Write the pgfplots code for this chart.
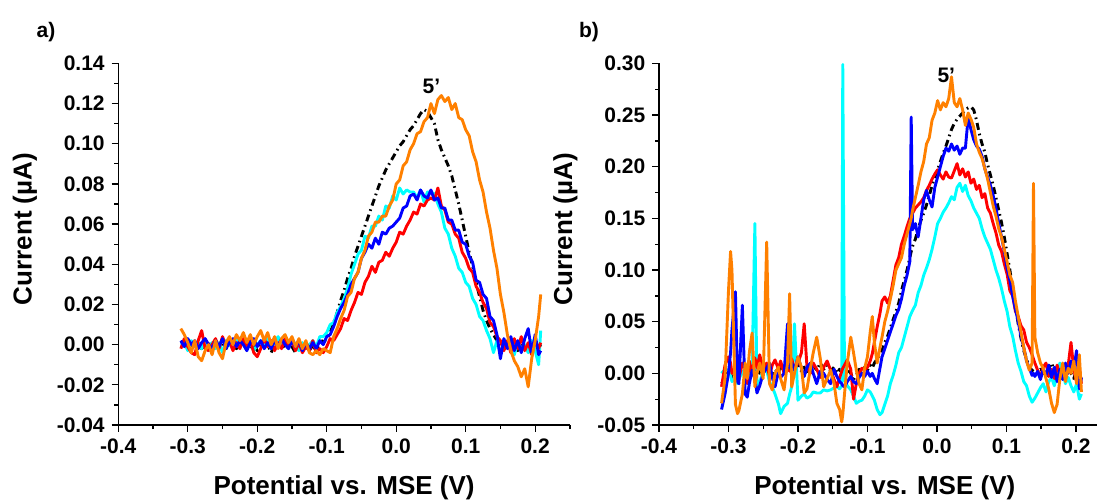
\documentclass[border=0pt]{standalone}
\usepackage{fontspec}
\setmainfont{Liberation Sans}
\usepackage{pgfplots}
\pgfplotsset{compat=1.18}
\usepackage{pgfplotstable}

\definecolor{oorange}{RGB}{255,128,0}
\definecolor{ocyan}{RGB}{0,255,255}

% panel a
\pgfplotstableread{
x k r b c o
-0.310 0.001 -0.002 0.002 0.000 0.008
-0.305 0.002 0.003 -0.001 0.001 0.005
-0.300 -0.002 -0.001 0.003 -0.003 0.001
-0.295 0.000 -0.004 0.000 0.002 -0.004
-0.290 -0.001 -0.005 0.002 -0.001 0.002
-0.285 0.001 0.002 -0.002 0.001 -0.006
-0.280 -0.002 0.007 0.001 -0.002 -0.008
-0.275 0.000 -0.002 0.003 0.002 -0.003
-0.270 0.001 -0.003 0.000 -0.003 0.000
-0.265 -0.002 0.000 -0.002 0.001 -0.005
-0.260 0.000 0.003 0.002 -0.002 0.002
-0.255 -0.001 -0.002 -0.001 0.001 -0.004
-0.250 0.001 0.004 0.003 -0.004 -0.007
-0.245 -0.002 -0.001 -0.002 0.002 0.001
-0.240 0.000 0.002 0.001 0.000 0.004
-0.235 0.001 -0.003 0.003 -0.002 0.000
-0.230 -0.002 0.001 -0.001 0.003 0.005
-0.225 0.000 -0.002 0.002 -0.001 0.002
-0.220 -0.001 0.003 0.000 0.002 0.006
-0.215 0.001 -0.001 -0.003 -0.002 0.001
-0.210 -0.002 0.002 0.001 0.001 0.005
-0.205 0.000 -0.004 0.003 -0.003 0.000
-0.200 -0.003 -0.006 -0.001 0.000 0.004
-0.195 0.001 -0.002 0.002 0.002 0.007
-0.190 -0.001 0.003 -0.002 -0.001 0.002
-0.185 0.000 -0.001 0.001 0.003 0.006
-0.180 -0.004 0.002 -0.002 -0.002 0.000
-0.175 0.000 -0.003 0.002 0.001 0.004
-0.170 -0.001 0.001 -0.001 0.004 -0.002
-0.165 0.001 -0.002 0.003 -0.001 0.003
-0.160 -0.002 0.003 0.000 0.002 0.005
-0.155 0.000 -0.001 -0.002 -0.002 0.001
-0.150 -0.001 0.002 0.002 0.003 0.004
-0.145 -0.004 -0.003 -0.001 0.000 -0.001
-0.140 0.000 0.001 0.002 -0.003 0.003
-0.135 -0.002 -0.004 -0.003 0.001 -0.002
-0.130 0.000 -0.001 0.001 -0.002 0.002
-0.125 -0.003 -0.003 -0.002 0.000 -0.004
-0.120 0.000 0.002 0.001 0.002 -0.005
-0.115 -0.004 -0.004 -0.002 -0.001 -0.003
-0.110 0.003 -0.002 0.002 0.004 -0.005
-0.105 0.001 -0.004 0.000 0.004 -0.002
-0.100 0.003 -0.001 0.004 0.006 -0.003
-0.095 0.006 0.003 0.005 0.010 -0.004
-0.090 0.011 0.002 0.009 0.011 0.004
-0.085 0.016 0.005 0.014 0.016 0.008
-0.080 0.022 0.008 0.018 0.019 0.013
-0.075 0.027 0.013 0.021 0.023 0.017
-0.070 0.033 0.012 0.025 0.028 0.024
-0.065 0.038 0.017 0.030 0.035 0.026
-0.060 0.044 0.021 0.033 0.040 0.033
-0.055 0.049 0.026 0.036 0.045 0.036
-0.050 0.054 0.025 0.043 0.047 0.043
-0.045 0.059 0.031 0.046 0.054 0.047
-0.040 0.064 0.034 0.050 0.053 0.054
-0.035 0.069 0.039 0.048 0.059 0.056
-0.030 0.074 0.036 0.053 0.059 0.061
-0.025 0.079 0.041 0.050 0.064 0.061
-0.020 0.083 0.042 0.056 0.062 0.064
-0.015 0.087 0.046 0.055 0.069 0.064
-0.010 0.090 0.044 0.058 0.068 0.069
-0.005 0.093 0.048 0.059 0.074 0.072
0.000 0.096 0.051 0.061 0.072 0.080
0.005 0.099 0.056 0.063 0.078 0.082
0.010 0.101 0.055 0.068 0.075 0.089
0.015 0.104 0.059 0.069 0.077 0.091
0.020 0.107 0.062 0.074 0.076 0.097
0.025 0.109 0.066 0.075 0.076 0.100
0.030 0.112 0.065 0.072 0.073 0.105
0.035 0.115 0.070 0.077 0.077 0.106
0.040 0.117 0.069 0.074 0.071 0.111
0.045 0.116 0.072 0.073 0.076 0.113
0.050 0.113 0.073 0.077 0.076 0.120
0.055 0.110 0.072 0.072 0.075 0.115
0.060 0.102 0.078 0.073 0.070 0.122
0.065 0.097 0.069 0.068 0.066 0.124
0.070 0.093 0.067 0.068 0.058 0.121
0.075 0.089 0.061 0.062 0.055 0.123
0.080 0.084 0.060 0.062 0.048 0.117
0.085 0.077 0.055 0.057 0.044 0.120
0.090 0.070 0.053 0.057 0.038 0.113
0.095 0.062 0.046 0.051 0.036 0.112
0.100 0.054 0.043 0.050 0.031 0.107
0.105 0.046 0.038 0.044 0.029 0.104
0.110 0.039 0.036 0.041 0.023 0.096
0.115 0.031 0.029 0.032 0.020 0.091
0.120 0.024 0.026 0.031 0.014 0.082
0.125 0.017 0.021 0.025 0.012 0.076
0.130 0.012 0.018 0.023 0.007 0.066
0.135 0.008 0.011 0.014 0.003 0.058
0.140 0.005 0.009 0.012 -0.004 0.047
0.145 0.002 0.004 0.005 0.002 0.038
0.150 0.001 0.002 -0.007 -0.005 0.025
0.155 -0.001 -0.003 0.003 -0.001 0.016
0.160 0.001 0.002 -0.002 0.002 0.005
0.165 -0.002 -0.004 0.004 -0.003 -0.003
0.170 0.000 0.003 -0.003 -0.005 -0.008
0.175 -0.003 -0.002 0.002 0.001 -0.011
0.180 0.001 0.004 -0.004 -0.002 -0.016
0.185 -0.001 -0.003 0.003 0.000 -0.012
0.190 -0.004 0.001 0.008 -0.004 -0.021
0.195 0.000 -0.005 -0.004 0.002 -0.007
0.200 -0.002 0.002 0.005 -0.003 0.002
0.205 0.001 -0.002 -0.005 -0.010 0.014
0.208 -0.001 0.001 -0.003 0.007 0.025
}\dataA

% panel b
\pgfplotstableread{
x k r b c o
-0.310 -0.010 -0.013 -0.035 0.000 -0.029
-0.305 -0.005 0.008 -0.020 0.004 -0.005
-0.300 0.003 0.016 0.000 0.003 0.080
-0.297 0.000 0.010 0.020 -0.002 0.118
-0.295 -0.004 0.000 0.042 -0.008 0.100
-0.290 0.004 0.005 0.079 -0.005 -0.030
-0.287 0.002 0.010 -0.008 -0.010 -0.039
-0.285 -0.002 -0.005 -0.010 -0.006 -0.036
-0.280 0.005 0.010 0.066 0.002 -0.020
-0.276 0.000 0.004 -0.020 -0.004 0.010
-0.273 -0.004 -0.010 -0.023 -0.008 -0.005
-0.270 0.003 0.012 -0.010 0.000 0.020
-0.266 0.006 0.000 0.003 0.004 0.039
-0.262 -0.002 0.015 -0.005 0.145 -0.013
-0.259 0.004 0.005 -0.019 -0.016 0.000
-0.255 0.000 0.018 -0.012 -0.008 0.010
-0.250 0.008 0.002 0.000 0.002 -0.005
-0.245 0.002 0.010 0.005 0.003 0.127
-0.241 0.006 -0.003 0.010 -0.008 -0.010
-0.237 -0.002 0.008 -0.004 -0.013 -0.016
-0.233 0.004 0.013 -0.013 -0.020 0.000
-0.228 0.000 0.004 0.002 -0.030 0.006
-0.225 0.008 0.012 -0.004 -0.039 -0.005
-0.220 0.002 0.000 0.000 -0.032 -0.016
-0.215 0.006 0.010 0.048 -0.029 0.010
-0.212 0.003 0.002 0.005 -0.020 0.077
-0.209 0.000 0.014 0.010 -0.013 -0.013
-0.205 0.005 0.004 0.003 0.048 0.000
-0.200 0.008 0.010 0.016 -0.026 0.016
-0.195 0.002 0.020 0.005 -0.022 0.006
-0.191 0.006 0.048 -0.003 -0.020 -0.019
-0.187 0.000 0.006 0.006 -0.024 -0.015
-0.182 0.005 0.000 0.010 -0.022 0.005
-0.178 0.008 0.010 0.000 -0.018 0.020
-0.173 0.003 0.004 -0.010 -0.019 0.035
-0.168 0.010 -0.004 0.002 -0.019 0.015
-0.163 0.004 0.006 0.000 -0.016 -0.013
-0.158 0.008 0.012 -0.006 -0.017 -0.005
-0.153 0.002 0.003 -0.010 -0.016 0.003
-0.148 0.006 -0.006 0.004 -0.014 -0.010
-0.144 0.000 -0.013 -0.003 -0.013 -0.029
-0.140 0.004 -0.004 -0.008 -0.015 -0.035
-0.137 0.001 0.002 -0.010 -0.012 -0.047
-0.1355 0.002 0.005 -0.012 0.299 -0.040
-0.133 0.000 0.008 -0.013 -0.007 -0.020
-0.129 0.004 0.013 -0.008 -0.012 0.010
-0.124 0.000 0.004 -0.003 -0.016 0.035
-0.120 -0.006 -0.025 -0.008 -0.022 0.020
-0.116 -0.002 -0.010 -0.010 -0.029 0.003
-0.112 0.004 0.000 -0.004 -0.027 -0.010
-0.108 0.000 0.005 0.000 -0.026 -0.016
-0.104 0.006 0.003 -0.003 -0.022 0.005
-0.100 0.003 0.006 0.002 -0.016 0.016
-0.096 0.008 0.012 -0.003 -0.018 0.040
-0.093 0.005 0.019 0.000 -0.022 0.055
-0.090 0.010 0.030 -0.005 -0.026 0.030
-0.086 0.014 0.045 -0.010 -0.035 0.010
-0.082 0.018 0.058 0.005 -0.040 0.025
-0.079 0.022 0.070 0.016 -0.038 0.035
-0.075 0.030 0.074 0.024 -0.030 0.050
-0.071 0.036 0.068 0.032 -0.022 0.060
-0.067 0.044 0.075 0.040 -0.010 0.072
-0.063 0.052 0.090 0.048 -0.002 0.085
-0.059 0.060 0.105 0.056 0.008 0.100
-0.055 0.068 0.112 0.062 0.020 0.106
-0.051 0.080 0.125 0.072 0.025 0.112
-0.047 0.090 0.133 0.085 0.035 0.125
-0.043 0.100 0.142 0.095 0.045 0.135
-0.039 0.112 0.150 0.108 0.055 0.145
-0.037 0.118 0.152 0.248 0.058 0.150
-0.035 0.123 0.155 0.139 0.061 0.158
-0.031 0.130 0.160 0.145 0.066 0.170
-0.027 0.140 0.163 0.132 0.078 0.182
-0.023 0.148 0.166 0.150 0.085 0.195
-0.019 0.155 0.170 0.168 0.095 0.205
-0.015 0.163 0.177 0.177 0.102 0.222
-0.011 0.172 0.182 0.168 0.110 0.228
-0.007 0.182 0.188 0.161 0.120 0.245
-0.003 0.190 0.193 0.180 0.132 0.252
0.001 0.197 0.197 0.190 0.145 0.264
0.005 0.205 0.192 0.200 0.150 0.255
0.009 0.213 0.188 0.210 0.156 0.262
0.013 0.220 0.195 0.218 0.160 0.258
0.017 0.228 0.190 0.215 0.165 0.266
0.021 0.236 0.189 0.222 0.171 0.287
0.025 0.242 0.196 0.216 0.168 0.262
0.029 0.246 0.203 0.220 0.180 0.258
0.033 0.249 0.192 0.212 0.184 0.266
0.037 0.252 0.198 0.218 0.176 0.255
0.041 0.255 0.190 0.218 0.182 0.240
0.045 0.257 0.195 0.248 0.172 0.252
0.049 0.258 0.184 0.236 0.167 0.246
0.053 0.255 0.188 0.226 0.160 0.238
0.057 0.245 0.178 0.220 0.155 0.222
0.061 0.232 0.182 0.217 0.150 0.214
0.065 0.222 0.170 0.210 0.140 0.208
0.069 0.214 0.174 0.198 0.132 0.198
0.073 0.202 0.160 0.190 0.126 0.188
0.077 0.192 0.155 0.182 0.120 0.175
0.081 0.182 0.145 0.172 0.110 0.162
0.085 0.170 0.136 0.160 0.100 0.152
0.089 0.158 0.124 0.145 0.092 0.140
0.093 0.146 0.118 0.132 0.082 0.132
0.097 0.132 0.106 0.118 0.070 0.120
0.101 0.116 0.096 0.102 0.060 0.108
0.105 0.100 0.080 0.090 0.045 0.095
0.109 0.082 0.075 0.075 0.036 0.088
0.113 0.065 0.060 0.062 0.022 0.070
0.117 0.048 0.055 0.050 0.010 0.055
0.121 0.034 0.046 0.036 0.002 0.040
0.125 0.022 0.042 0.025 -0.008 0.025
0.129 0.014 0.030 0.012 -0.012 0.012
0.133 0.006 0.025 0.005 -0.022 0.003
0.137 0.003 0.018 -0.002 -0.028 0.010
0.139 0.002 0.014 0.000 -0.026 0.184
0.141 0.001 0.010 -0.003 -0.024 0.035
0.145 0.000 0.003 0.002 -0.019 0.020
0.149 0.004 -0.004 -0.006 -0.014 0.010
0.153 0.002 0.006 0.004 -0.010 0.005
0.157 -0.004 0.010 -0.002 -0.018 -0.005
0.161 0.005 -0.003 0.008 -0.008 -0.015
0.165 0.010 0.004 -0.004 -0.004 -0.029
0.169 0.002 -0.005 0.006 -0.012 -0.038
0.173 0.006 0.008 -0.008 -0.002 -0.030
0.177 0.000 -0.002 0.004 0.010 -0.005
0.181 0.008 0.006 -0.006 0.002 0.010
0.185 -0.002 -0.004 0.010 -0.010 -0.008
0.189 0.004 0.008 0.000 -0.004 0.005
0.193 0.000 0.030 0.012 -0.012 0.000
0.197 -0.005 0.004 0.004 -0.018 0.012
0.201 0.003 -0.008 0.022 -0.010 -0.010
0.205 -0.002 0.005 -0.015 -0.025 0.018
0.208 -0.006 -0.010 -0.004 -0.020 -0.018
}\dataB

\pgfplotsset{
  ori/.style={
    scale only axis, width=225.8pt, height=180.8pt,
    axis x line*=bottom, axis y line*=left,
    axis line style={-, line width=0.65pt},
    tick align=outside, major tick length=3.3pt, minor tick length=2pt,
    every tick/.style={black, line width=0.65pt},
    xmin=-0.4, xmax=0.25,
    xtick={-0.4,-0.3,-0.2,-0.1,0,0.1,0.2},
    minor xtick={-0.35,-0.25,-0.15,-0.05,0.05,0.15,0.25},
    /pgf/number format/assume math mode=true,
    ticklabel style={font=\fontsize{10.5}{12}\selectfont\bfseries},
    xticklabel style={/pgf/number format/.cd, fixed, fixed zerofill, precision=1},
    yticklabel style={/pgf/number format/.cd, fixed, fixed zerofill, precision=2},
    label style={font=\fontsize{13}{15}\selectfont\bfseries},
    xlabel={Potential vs. MSE (V)}, ylabel={Current (µA)},
    xlabel style={at={(axis description cs:0.5,-0.1935)}, anchor=base},
    ylabel style={at={(axis description cs:-0.207,0.542)}, anchor=center},
    no markers,
    every axis plot/.append style={line width=1.45pt, line join=round},
  },
  kk/.style={black, dash pattern=on 3.5pt off 2pt on 0.8pt off 2pt},
}

\begin{document}
\begin{tikzpicture}
\useasboundingbox (0,0) rectangle (548.5pt,249.5pt);

\begin{axis}[ori, at={(59.15pt,37pt)}, anchor=south west,
  ymin=-0.04, ymax=0.14,
  ytick={-0.04,-0.02,0,0.02,0.04,0.06,0.08,0.10,0.12,0.14},
  minor ytick={-0.03,-0.01,0.01,0.03,0.05,0.07,0.09,0.11,0.13}]
\addplot[kk] table[x=x, y=k] {\dataA};
\addplot[ocyan] table[x=x, y=c] {\dataA};
\addplot[red] table[x=x, y=r] {\dataA};
\addplot[blue] table[x=x, y=b] {\dataA};
\addplot[oorange] table[x=x, y=o] {\dataA};
\node[font=\fontsize{10.5}{12}\selectfont\bfseries] at (axis cs:0.0506,0.1287) {5’};
\end{axis}

\begin{axis}[ori, at={(329.5pt,37pt)}, anchor=south west,
  ymin=-0.05, ymax=0.30,
  ytick={-0.05,0,0.05,0.10,0.15,0.20,0.25,0.30},
  minor ytick={-0.025,0.025,0.075,0.125,0.175,0.225,0.275}]
\addplot[kk] table[x=x, y=k] {\dataB};
\addplot[ocyan] table[x=x, y=c] {\dataB};
\addplot[red] table[x=x, y=r] {\dataB};
\addplot[blue] table[x=x, y=b] {\dataB};
\addplot[oorange] table[x=x, y=o] {\dataB};
\node[font=\fontsize{10.5}{12}\selectfont\bfseries] at (axis cs:0.0135,0.2885) {5’};
\end{axis}

\node[font=\fontsize{10.5}{12}\selectfont\bfseries] at (23pt,233.5pt) {a)};
\node[font=\fontsize{10.5}{12}\selectfont\bfseries] at (294.5pt,233.5pt) {b)};
\end{tikzpicture}
\end{document}
